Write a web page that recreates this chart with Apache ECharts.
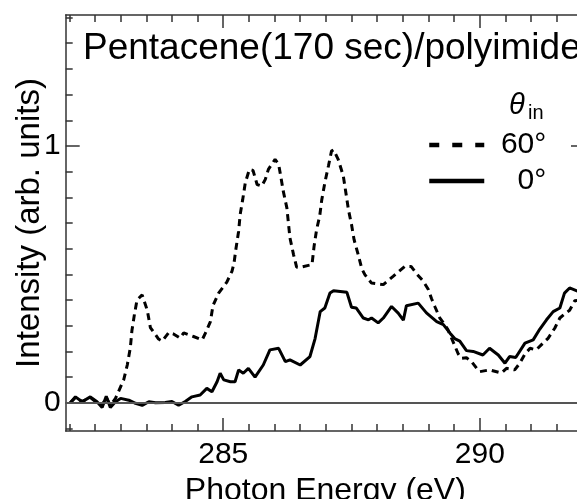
<!DOCTYPE html>
<html>
<head>
<meta charset="utf-8">
<script src="https://cdn.jsdelivr.net/npm/echarts@6/dist/echarts.min.js"></script>
<style>
  html, body { margin: 0; padding: 0; background: #fff; }
  #chart { width: 577px; height: 499px; }
</style>
</head>
<body>
<div id="chart"></div>
<script>
// theta_in = 60 deg (dashed)
const energy60 = [282.02, 282.12, 282.25, 282.41, 282.54, 282.64, 282.72, 282.80, 282.90, 283.06,
  283.13, 283.19, 283.22, 283.27, 283.32, 283.42, 283.45, 283.52, 283.58, 283.74,
  283.81, 283.94, 284.03, 284.16, 284.23, 284.42, 284.59, 284.65, 284.75, 284.80,
  284.91, 285.07, 285.17, 285.21, 285.25, 285.30, 285.33, 285.38, 285.43, 285.51,
  285.58, 285.66, 285.75, 285.82, 285.88, 286.01, 286.08, 286.12, 286.17, 286.24,
  286.27, 286.30, 286.37, 286.43, 286.53, 286.73, 286.77, 286.82, 286.88, 286.92,
  286.98, 287.05, 287.11, 287.15, 287.24, 287.34, 287.39, 287.44, 287.50, 287.55,
  287.63, 287.70, 287.76, 287.89, 288.12, 288.31, 288.54, 288.66, 288.77, 288.90,
  289.00, 289.06, 289.13, 289.22, 289.32, 289.38, 289.58, 289.64, 289.74, 289.84,
  289.94, 290.00, 290.19, 290.42, 290.52, 290.68, 290.78, 290.88, 290.98, 291.10,
  291.23, 291.33, 291.46, 291.56, 291.65, 291.75, 291.85, 291.95]
const intensity60 = [0.0, 0.02, 0.005, 0.02, 0.0, -0.01, 0.02, -0.01, 0.017, 0.089,
  0.147, 0.215, 0.28, 0.345, 0.40, 0.42, 0.42, 0.36, 0.293, 0.248,
  0.24, 0.274, 0.268, 0.252, 0.272, 0.258, 0.245, 0.27, 0.316, 0.378,
  0.427, 0.47, 0.512, 0.544, 0.603, 0.668, 0.733, 0.792, 0.857, 0.909,
  0.905, 0.85, 0.844, 0.87, 0.909, 0.948, 0.928, 0.883, 0.824, 0.759,
  0.70, 0.642, 0.577, 0.528, 0.529, 0.538, 0.609, 0.675, 0.727, 0.79,
  0.857, 0.922, 0.98, 0.985, 0.948, 0.883, 0.818, 0.752, 0.694, 0.635,
  0.577, 0.522, 0.499, 0.466, 0.46, 0.492, 0.531, 0.531, 0.502, 0.473,
  0.44, 0.405, 0.372, 0.33, 0.304, 0.284, 0.19, 0.173, 0.175, 0.16,
  0.134, 0.121, 0.128, 0.116, 0.134, 0.128, 0.154, 0.19, 0.212, 0.206,
  0.232, 0.251, 0.29, 0.33, 0.345, 0.36, 0.397, 0.40]

// theta_in = 0 deg (solid)
const energy0 = [282.02, 282.12, 282.25, 282.41, 282.54, 282.64, 282.72, 282.80, 282.90, 283.00,
  283.16, 283.29, 283.42, 283.55, 283.68, 283.87, 284.00, 284.13, 284.26, 284.39,
  284.55, 284.68, 284.78, 284.88, 284.94, 285.01, 285.14, 285.23, 285.30, 285.39,
  285.49, 285.62, 285.78, 285.91, 286.08, 286.21, 286.30, 286.50, 286.69, 286.79,
  286.89, 286.98, 287.08, 287.15, 287.41, 287.50, 287.59, 287.73, 287.83, 287.89,
  288.02, 288.12, 288.28, 288.41, 288.51, 288.57, 288.80, 288.96, 289.16, 289.29,
  289.42, 289.51, 289.61, 289.74, 289.87, 290.06, 290.19, 290.36, 290.49, 290.58,
  290.70, 290.88, 291.04, 291.17, 291.30, 291.43, 291.56, 291.65, 291.75, 291.88,
  291.95]
const intensity0 = [0.0, 0.023, 0.004, 0.023, 0.004, -0.018, 0.025, -0.018, 0.004, 0.017,
  0.010, -0.002, -0.010, 0.004, 0.0, 0.001, 0.005, -0.010, 0.005, 0.023,
  0.030, 0.056, 0.043, 0.082, 0.115, 0.089, 0.082, 0.082, 0.128, 0.115,
  0.134, 0.100, 0.147, 0.206, 0.212, 0.160, 0.167, 0.147, 0.180, 0.250,
  0.355, 0.369, 0.427, 0.436, 0.430, 0.372, 0.369, 0.330, 0.323, 0.330,
  0.311, 0.330, 0.375, 0.349, 0.322, 0.378, 0.388, 0.350, 0.316, 0.304,
  0.271, 0.250, 0.240, 0.203, 0.200, 0.186, 0.212, 0.186, 0.154, 0.180,
  0.176, 0.232, 0.245, 0.287, 0.323, 0.355, 0.369, 0.427, 0.447, 0.437,
  0.43]

const xMin = 281.93
const xMax = 292.05
const yMin = -0.11
const yMax = 1.51
const xMinorTicks = [282, 282.5, 283, 283.5, 284, 284.5, 285, 285.5, 286, 286.5, 287,
  287.5, 288, 288.5, 289, 289.5, 290, 290.5, 291, 291.5, 292]
const xMajorTicks = [285, 290]
const yMinorTicks = [-0.1, 0, 0.1, 0.2, 0.3, 0.4, 0.5, 0.6, 0.7, 0.8, 0.9, 1.0,
  1.1, 1.2, 1.3, 1.4, 1.5]
const yMajorTicks = [0, 1]

const FONT = '"Liberation Sans", Arial, sans-serif'
const AXIS_COLOR = '#333'

const chart = echarts.init(document.getElementById('chart'), null, { renderer: 'canvas' })

const makeAxis = (type, position, ticks, len, showLine, extra) => Object.assign({
  type: 'value',
  position: position,
  min: type === 'x' ? xMin : yMin,
  max: type === 'x' ? xMax : yMax,
  axisLine: { show: showLine, onZero: false, lineStyle: { color: AXIS_COLOR, width: 1.5 } },
  axisTick: { show: true, inside: true, length: len, customValues: ticks, lineStyle: { color: AXIS_COLOR, width: 1.5 } },
  axisLabel: { show: false },
  splitLine: { show: false }
}, extra || {})

const labelStyle = { color: '#000', fontSize: 30, fontFamily: FONT }

const option = {
  backgroundColor: '#fff',
  animation: false,
  title: {
    text: 'Pentacene(170 sec)/polyimide',
    left: 83,
    top: 30,
    padding: 0,
    textStyle: { color: '#000', fontSize: 37, fontWeight: 'normal', fontFamily: FONT }
  },
  legend: {
    orient: 'vertical',
    left: 427,
    top: 130,
    padding: 0,
    itemWidth: 55,
    itemHeight: 2,
    itemGap: 6,
    selectedMode: false,
    formatter: '{a|{name}}',
    textStyle: {
      color: '#000', fontSize: 30, fontFamily: FONT,
      rich: { a: { width: 57, align: 'right', fontSize: 30, fontFamily: FONT, color: '#000' } }
    },
    data: [
      { name: '60°', itemStyle: { opacity: 0 }, lineStyle: { width: 4.5, type: [10, 13], color: '#000' } },
      { name: '0°', itemStyle: { opacity: 0 }, lineStyle: { width: 4.5, color: '#000' } }
    ]
  },
  graphic: [
    { type: 'text', x: 509, y: 106, style: { text: 'θ', fontSize: 29, fontStyle: 'italic', fontFamily: FONT, fill: '#000', verticalAlign: 'middle' } },
    { type: 'text', x: 528, y: 113, style: { text: 'in', fontSize: 20, fontFamily: FONT, fill: '#000', verticalAlign: 'middle' } }
  ],
  grid: { left: 65.7, top: 15, width: 519.3, height: 416, containLabel: false, outerBoundsMode: 'none' },
  xAxis: [
    makeAxis('x', 'bottom', xMinorTicks, 7, true),
    makeAxis('x', 'bottom', xMajorTicks, 13, false, {
      axisLabel: Object.assign({ show: true, customValues: xMajorTicks, margin: 9 }, labelStyle),
      name: 'Photon Energy (eV)',
      nameLocation: 'middle',
      nameGap: 38,
      nameTextStyle: { color: '#000', fontSize: 32, fontFamily: FONT }
    }),
    makeAxis('x', 'top', xMinorTicks, 7, true),
    makeAxis('x', 'top', xMajorTicks, 13, false)
  ],
  yAxis: [
    makeAxis('y', 'left', yMinorTicks, 7, true),
    makeAxis('y', 'left', yMajorTicks, 14, false, {
      axisLabel: Object.assign({ show: true, customValues: yMajorTicks, margin: 5 }, labelStyle),
      name: 'Intensity (arb. units)',
      nameLocation: 'middle',
      nameGap: 19,
      nameMoveOverlap: false,
      nameTextStyle: { color: '#000', fontSize: 33, fontFamily: FONT }
    }),
    makeAxis('y', 'right', yMinorTicks, 7, true),
    makeAxis('y', 'right', yMajorTicks, 14, false)
  ],
  series: [
    {
      name: '60°',
      type: 'line',
      z: 2,
      data: energy60.map((e, i) => [e, intensity60[i]]),
      showSymbol: false,
      lineStyle: { color: '#000', width: 3, type: [7, 5] },
      itemStyle: { color: '#000' },
      markLine: {
        silent: true,
        symbol: ['none', 'none'],
        label: { show: false },
        lineStyle: { color: '#555', width: 2, type: 'solid' },
        data: [{ yAxis: 0 }]
      }
    },
    {
      name: '0°',
      type: 'line',
      z: 3,
      data: energy0.map((e, i) => [e, intensity0[i]]),
      showSymbol: false,
      lineStyle: { color: '#000', width: 3 },
      itemStyle: { color: '#000' }
    }
  ]
}

chart.setOption(option)
</script>
</body>
</html>
